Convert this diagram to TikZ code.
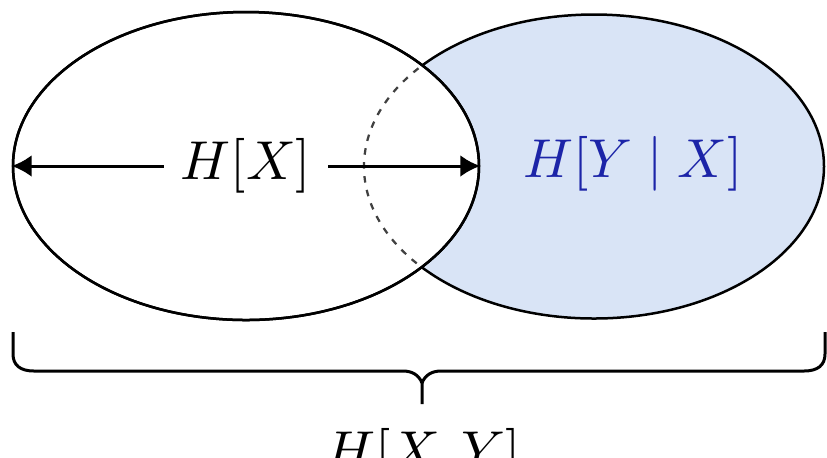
\documentclass[tikz,border=0pt]{standalone}
\usetikzlibrary{shapes.geometric,arrows.meta}
\definecolor{bluefill}{RGB}{217,228,246}
\definecolor{bluetext}{RGB}{28,36,168}
\tikzset{
  ell/.style={ellipse, draw=black, line width=0.5pt, inner sep=0pt},
  lbl/.style={font=\fontsize{10.8}{13}\selectfont, inner sep=0pt},
  arr/.style={{Latex[length=4pt,width=4.4pt]}-{Latex[length=4pt,width=4.4pt]}, line width=0.6pt},
  bracepath/.style={line width=0.6pt, line join=round},
}
\begin{document}
\begin{tikzpicture}[x=0.2pt,y=-0.2pt]
\useasboundingbox (0,0) rectangle (827,457);
% right ellipse (Y), filled
\node[ell, fill=bluefill, minimum width=92pt, minimum height=60.8pt] (Y) at (594,166.5) {};
% left ellipse (X), white
\node[ell, fill=white, minimum width=93.2pt, minimum height=61.6pt] (X) at (246,166) {};
% dashed part of Y inside X
\begin{scope}
  \clip (X.center) ellipse [x radius=46.6pt, y radius=30.8pt];
  \draw[line width=0.45pt, dash pattern=on 1.3pt off 1.5pt, black!75] (Y.center) ellipse [x radius=46pt, y radius=30.4pt];
\end{scope}
\draw[line width=0.5pt] (X.center) ellipse [x radius=46.6pt, y radius=30.8pt];
% arrow with label
\draw[arr] (X.west) -- node[lbl, fill=white, inner xsep=3.4pt, inner ysep=1pt] (hx) {$H[X]$} (X.east);
% conditional label
\node[lbl, text=bluetext] (hyx) at (633,164) {$H[Y \mid X]$};
% brace
\coordinate (bL) at (13,332);
\coordinate (bR) at (825,332);
\coordinate (bM) at (422,383);
\coordinate (bT) at (422,404);
\draw[bracepath] (bL) -- (13,354) .. controls (13,365) and (20,371) .. (34,371) -- (403,371)
  .. controls (412,371) and (419,375) .. (bM) -- (bT);
\draw[bracepath] (bR) -- (825,354) .. controls (825,365) and (818,371) .. (804,371) -- (441,371)
  .. controls (432,371) and (425,375) .. (bM);
\node[lbl, anchor=base] (hxy) at (423,469) {$H[X,Y]$};
\end{tikzpicture}
\end{document}
